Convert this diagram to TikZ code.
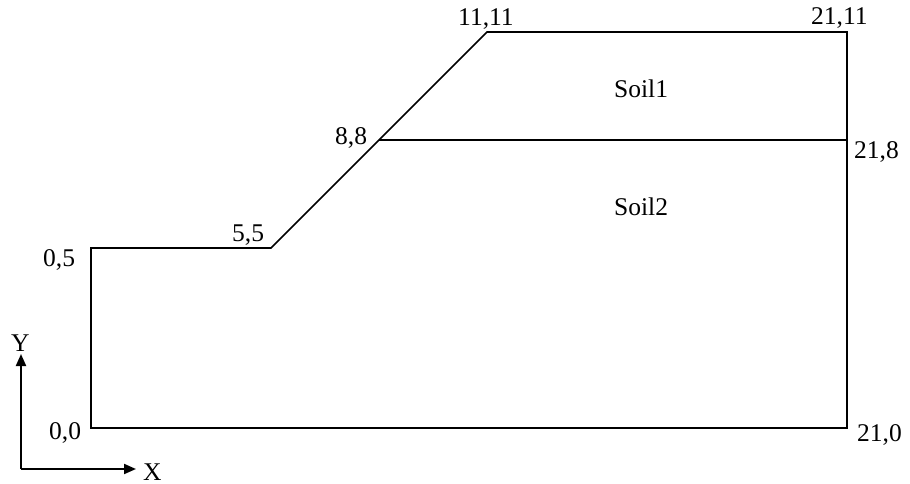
\documentclass[tikz,border=0pt]{standalone}
\usepackage{fontspec}
\setmainfont{Liberation Serif}
\usetikzlibrary{arrows.meta}
\begin{document}
\begin{tikzpicture}[x=1pt,y=-1pt,
  outline/.style={line width=1.6pt,line join=miter},
  axisline/.style={line width=2pt,-{Triangle[length=12pt,width=10pt]}},
  lbl/.style={anchor=base west,inner sep=0pt,font=\fontsize{25.5}{29}\selectfont}]
\useasboundingbox (0,0) rectangle (910,484);
% corners
\coordinate (p00) at (91,428);
\coordinate (p05) at (91,248);
\coordinate (p55) at (271,248);
\coordinate (p88) at (379,140);
\coordinate (p1111) at (487,32);
\coordinate (p2111) at (847,32);
\coordinate (p218) at (847,140);
\coordinate (p210) at (847,428);
% outline
\draw[outline] (p00) -- (p05) -- (p55) -- (p88) -- (p1111) -- (p2111) -- (p218) -- (p210) -- cycle;
\draw[outline] (p88) -- (p218);
% axes
\coordinate (ax0) at (21,469);
\coordinate (axx) at (136,469);
\coordinate (axy) at (21,354);
\draw[axisline] (ax0) -- (axx);
\draw[axisline] (ax0) -- (axy);
% labels
\node[lbl] (l00) at (49,439) {0,0};
\node[lbl] (l05) at (43,266) {0,5};
\node[lbl] (l55) at (232,241) {5,5};
\node[lbl] (l88) at (335,145) {8,8};
\node[lbl] (l1111) at (458,26) {11,11};
\node[lbl] (l2111) at (811,25) {21,11};
\node[lbl] (l218) at (854,158) {21,8};
\node[lbl] (l210) at (857,441) {21,0};
\node[lbl] (s1) at (614,98) {Soil1};
\node[lbl] (s2) at (614,215) {Soil2};
\node[lbl] (lx) at (143,480) {X};
\node[lbl] (ly) at (11,351) {Y};
\end{tikzpicture}
\end{document}
